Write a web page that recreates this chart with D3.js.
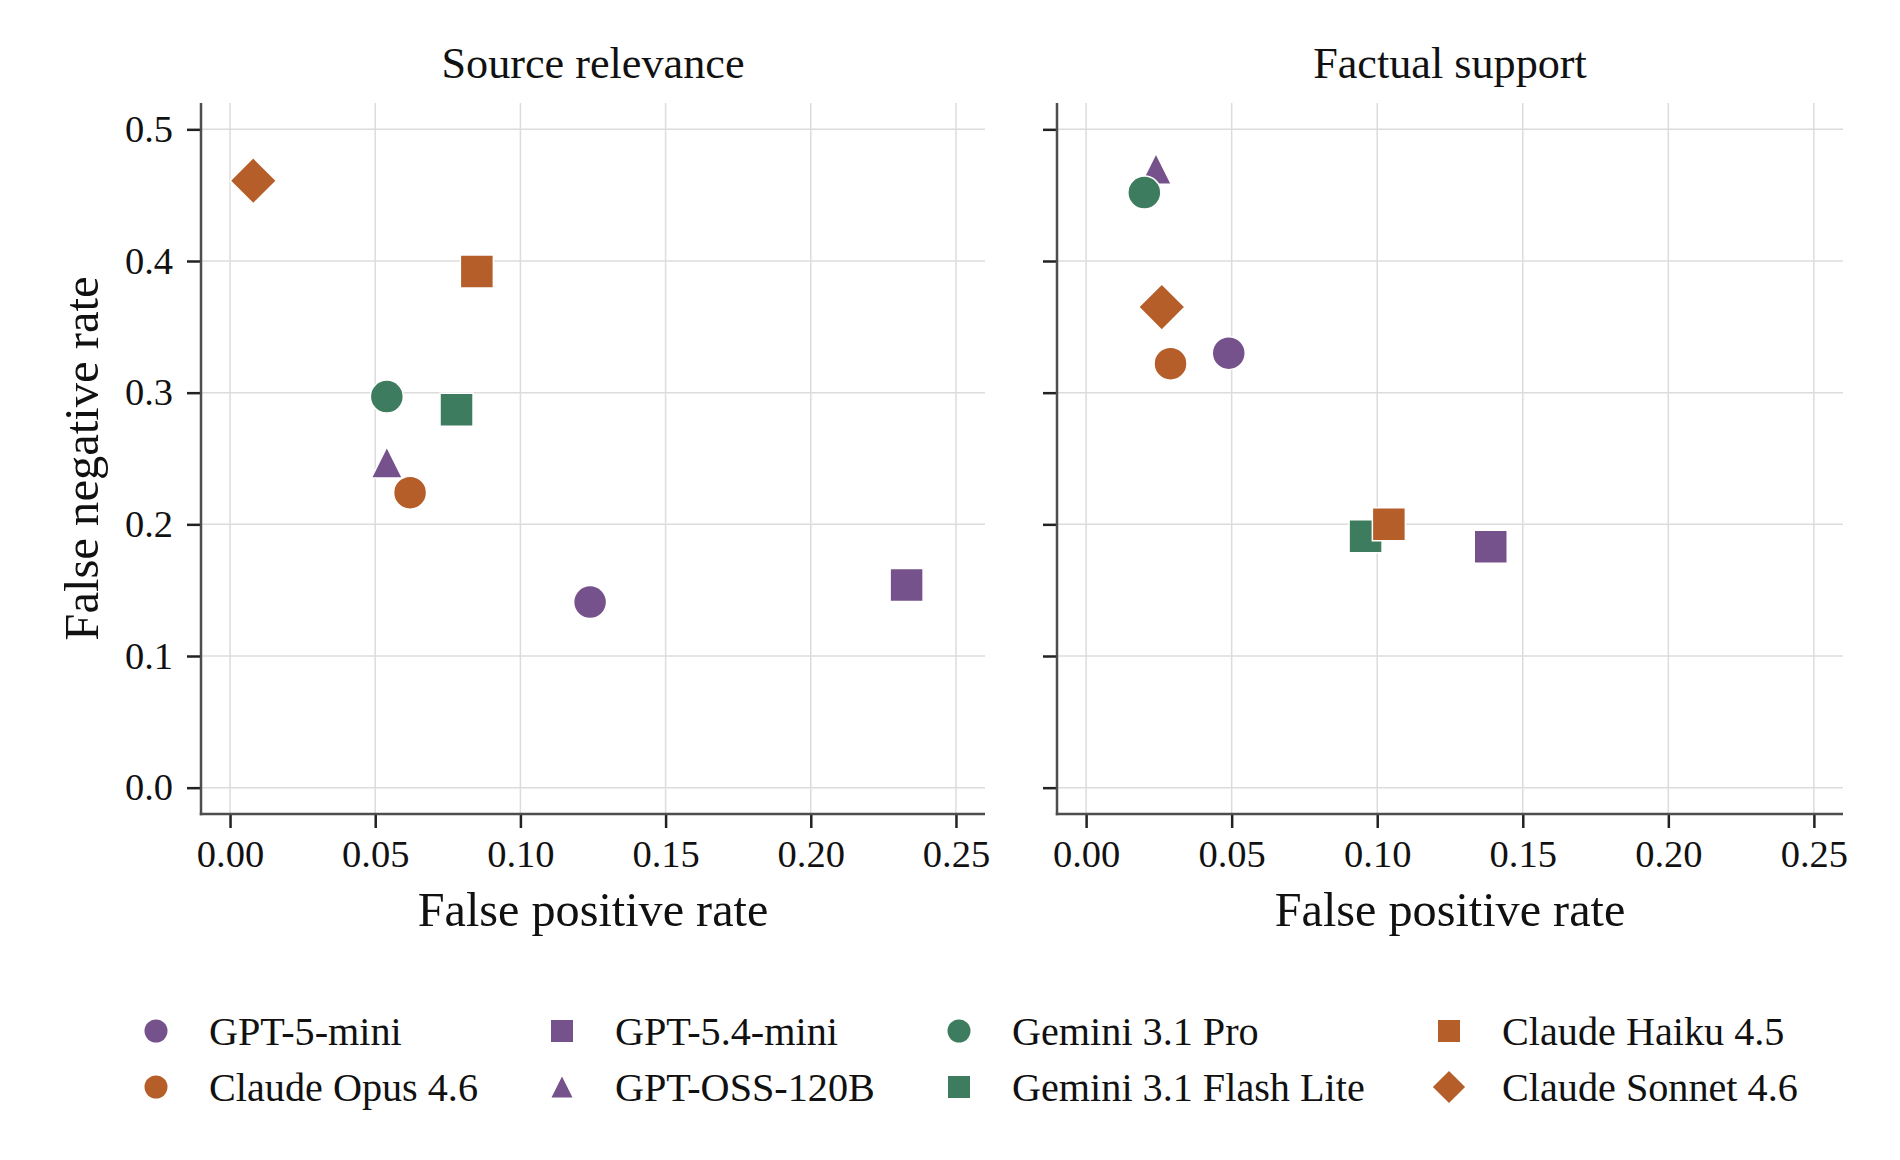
<!DOCTYPE html>
<html>
<head>
<meta charset="utf-8">
<script src="https://cdn.jsdelivr.net/npm/d3@7"></script>
<style>
  html, body { margin: 0; padding: 0; background: #fff; }
  svg { display: block; }
  text { font-family: "Liberation Serif", "Times New Roman", serif; fill: #111; }
</style>
</head>
<body>
<div id="chart"></div>
<script>
// Models, in plotting order (legend is column-major, 2 rows)
const models = ["GPT-5-mini", "Claude Opus 4.6", "GPT-5.4-mini", "GPT-OSS-120B",
                "Gemini 3.1 Pro", "Gemini 3.1 Flash Lite", "Claude Haiku 4.5", "Claude Sonnet 4.6"];
const modelColors = ["#76528c", "#b55e2a", "#76528c", "#76528c",
                     "#3e7c5f", "#3e7c5f", "#b55e2a", "#b55e2a"];
const modelShapes = ["circle", "circle", "square", "triangle",
                     "circle", "square", "square", "diamond"];

const panelTitles = ["Source relevance", "Factual support"];

// false positive rate / false negative rate per model
const relevanceFPR = [0.124, 0.062, 0.233, 0.054, 0.054, 0.078, 0.085, 0.008];
const relevanceFNR = [0.141, 0.224, 0.154, 0.247, 0.297, 0.287, 0.392, 0.461];
const supportFPR   = [0.049, 0.029, 0.139, 0.024, 0.020, 0.096, 0.104, 0.026];
const supportFNR   = [0.330, 0.322, 0.183, 0.470, 0.452, 0.191, 0.200, 0.365];

const xTicks = [0, 0.05, 0.10, 0.15, 0.20, 0.25];
const yTicks = [0, 0.1, 0.2, 0.3, 0.4, 0.5];

const W = 1900, H = 1160;
const panels = [
  { left: 201, right: 985, fpr: relevanceFPR, fnr: relevanceFNR, title: panelTitles[0], yLabels: true },
  { left: 1057, right: 1843, fpr: supportFPR, fnr: supportFNR, title: panelTitles[1], yLabels: false }
];
const plotTop = 103, plotBottom = 814;

const svg = d3.select("#chart").append("svg").attr("width", W).attr("height", H);

// marker path, centred on bbox; s = full size in px
function markerPath(shape, s) {
  const h = s / 2;
  if (shape === "circle") {
    const p = d3.path(); p.arc(0, 0, h, 0, 2 * Math.PI); p.closePath(); return p.toString();
  }
  if (shape === "square") return `M${-h},${-h}H${h}V${h}H${-h}Z`;
  if (shape === "triangle") return `M0,${-h}L${h},${h}L${-h},${h}Z`;
  if (shape === "diamond") return `M0,${-h * 1.4}L${h * 1.4},0L0,${h * 1.4}L${-h * 1.4},0Z`;
}
const plotSize = { circle: 33, square: 33, triangle: 31, diamond: 33 };

panels.forEach(p => {
  const x = d3.scaleLinear().domain([-0.01, 0.26]).range([p.left, p.right]);
  const y = d3.scaleLinear().domain([-0.02, 0.52]).range([plotBottom, plotTop]);
  const g = svg.append("g");

  // grid
  g.append("g").selectAll("line").data(xTicks).join("line")
    .attr("x1", d => x(d)).attr("x2", d => x(d)).attr("y1", plotTop).attr("y2", plotBottom)
    .attr("stroke", "#dcdcdc").attr("stroke-width", 1.5);
  g.append("g").selectAll("line").data(yTicks).join("line")
    .attr("y1", d => y(d)).attr("y2", d => y(d)).attr("x1", p.left).attr("x2", p.right)
    .attr("stroke", "#dcdcdc").attr("stroke-width", 1.5);

  // axes
  const xAxis = d3.axisBottom(x).tickValues(xTicks).tickFormat(d3.format(".2f"))
    .tickSize(14).tickPadding(12);
  const yAxis = d3.axisLeft(y).tickValues(yTicks).tickFormat(p.yLabels ? d3.format(".1f") : "")
    .tickSize(14).tickPadding(14);

  const gx = g.append("g").attr("transform", `translate(0,${plotBottom})`).call(xAxis);
  const gy = g.append("g").attr("transform", `translate(${p.left},0)`).call(yAxis);
  [gx, gy].forEach(a => {
    a.select(".domain").remove();
    a.selectAll(".tick line").attr("stroke", "#222").attr("stroke-width", 2.5);
    a.selectAll(".tick text").attr("fill", "#111")
      .style("font-family", '"Liberation Serif", "Times New Roman", serif')
      .style("font-size", "38.5px");
  });

  // spines
  g.append("line").attr("x1", p.left).attr("x2", p.left).attr("y1", plotTop).attr("y2", plotBottom + 1.2)
    .attr("stroke", "#4d4d4d").attr("stroke-width", 2.5);
  g.append("line").attr("x1", p.left - 1.2).attr("x2", p.right).attr("y1", plotBottom).attr("y2", plotBottom)
    .attr("stroke", "#4d4d4d").attr("stroke-width", 2.5);

  // points
  g.append("g").selectAll("path").data(models).join("path")
    .attr("transform", (d, i) => `translate(${x(p.fpr[i])},${y(p.fnr[i])})`)
    .attr("d", (d, i) => markerPath(modelShapes[i], plotSize[modelShapes[i]]))
    .attr("fill", (d, i) => modelColors[i])
    .attr("stroke", "#fff").attr("stroke-width", 1.5);

  // titles
  const cx = (p.left + p.right) / 2;
  svg.append("text").attr("x", cx).attr("y", 78).attr("text-anchor", "middle")
    .style("font-size", "44.2px").text(p.title);
  svg.append("text").attr("x", cx).attr("y", 926).attr("text-anchor", "middle")
    .style("font-size", "48.2px").text("False positive rate");
});

// y label
svg.append("text")
  .attr("transform", `translate(98,${(plotTop + plotBottom) / 2}) rotate(-90)`)
  .attr("text-anchor", "middle")
  .style("font-size", "48.6px")
  .text("False negative rate");

// legend
const legendColX = [156, 562, 959, 1449];
const legendTextX = [209, 615, 1012, 1502];
const legendRowY = [1031, 1087];
const legendSize = { circle: 23, square: 22, triangle: 21, diamond: 23 };

const leg = svg.append("g").selectAll("g").data(models).join("g")
  .attr("transform", (d, i) => `translate(0,${legendRowY[i % 2]})`);
leg.append("path")
  .attr("transform", (d, i) => `translate(${legendColX[Math.floor(i / 2)]},0)`)
  .attr("d", (d, i) => markerPath(modelShapes[i], legendSize[modelShapes[i]]))
  .attr("fill", (d, i) => modelColors[i]);
leg.append("text")
  .attr("x", (d, i) => legendTextX[Math.floor(i / 2)])
  .attr("y", 13.5)
  .style("font-size", "40.2px")
  .text(d => d);
</script>
</body>
</html>
